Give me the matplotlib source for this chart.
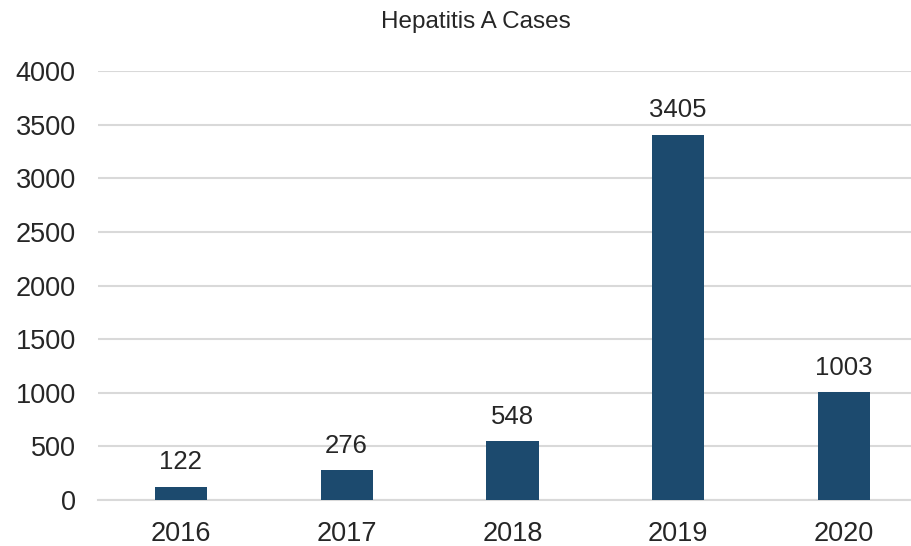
import matplotlib
matplotlib.use("Agg")
import matplotlib.pyplot as plt

years = ["2016", "2017", "2018", "2019", "2020"]
cases = [122, 276, 548, 3405, 1003]
yticks = [0, 500, 1000, 1500, 2000, 2500, 3000, 3500, 4000]

plt.rcParams['font.family'] = ['Liberation Sans', 'DejaVu Sans']

fig = plt.figure(figsize=(9.12, 5.46), dpi=100)
ax = fig.add_axes([98 / 912, 46 / 546, 1 - 98 / 912, 429 / 546])

x = range(len(years))
bars = ax.bar(x, cases, width=0.315, color="#1c4a6e", zorder=3)
for xi, v in zip(x, cases):
    ax.annotate(str(v), (xi, v), xytext=(0, 9), textcoords="offset points",
                ha="center", va="bottom", fontsize=18.5, color="#262626")

ax.set_xlim(-0.5, 4.41)
ax.set_ylim(0, 4000)
ax.set_yticks(yticks)
ax.set_xticks(list(x))
ax.set_xticklabels(years)
ax.tick_params(axis="both", length=0, labelsize=19.5, colors="#262626")
ax.tick_params(axis="y", pad=16)
ax.tick_params(axis="x", pad=15)
ax.grid(axis="y", color="#d9d9d9", linewidth=1.5, zorder=0)
for s in ["top", "right", "left"]:
    ax.spines[s].set_visible(False)
ax.spines["bottom"].set_color("#d9d9d9")
ax.spines["bottom"].set_linewidth(1.5)

fig.text(476 / 912, 1 - 22 / 546, "Hepatitis A Cases", ha="center", va="center",
         fontsize=17.5, color="#262626")

fig.savefig("out.png", dpi=100)
